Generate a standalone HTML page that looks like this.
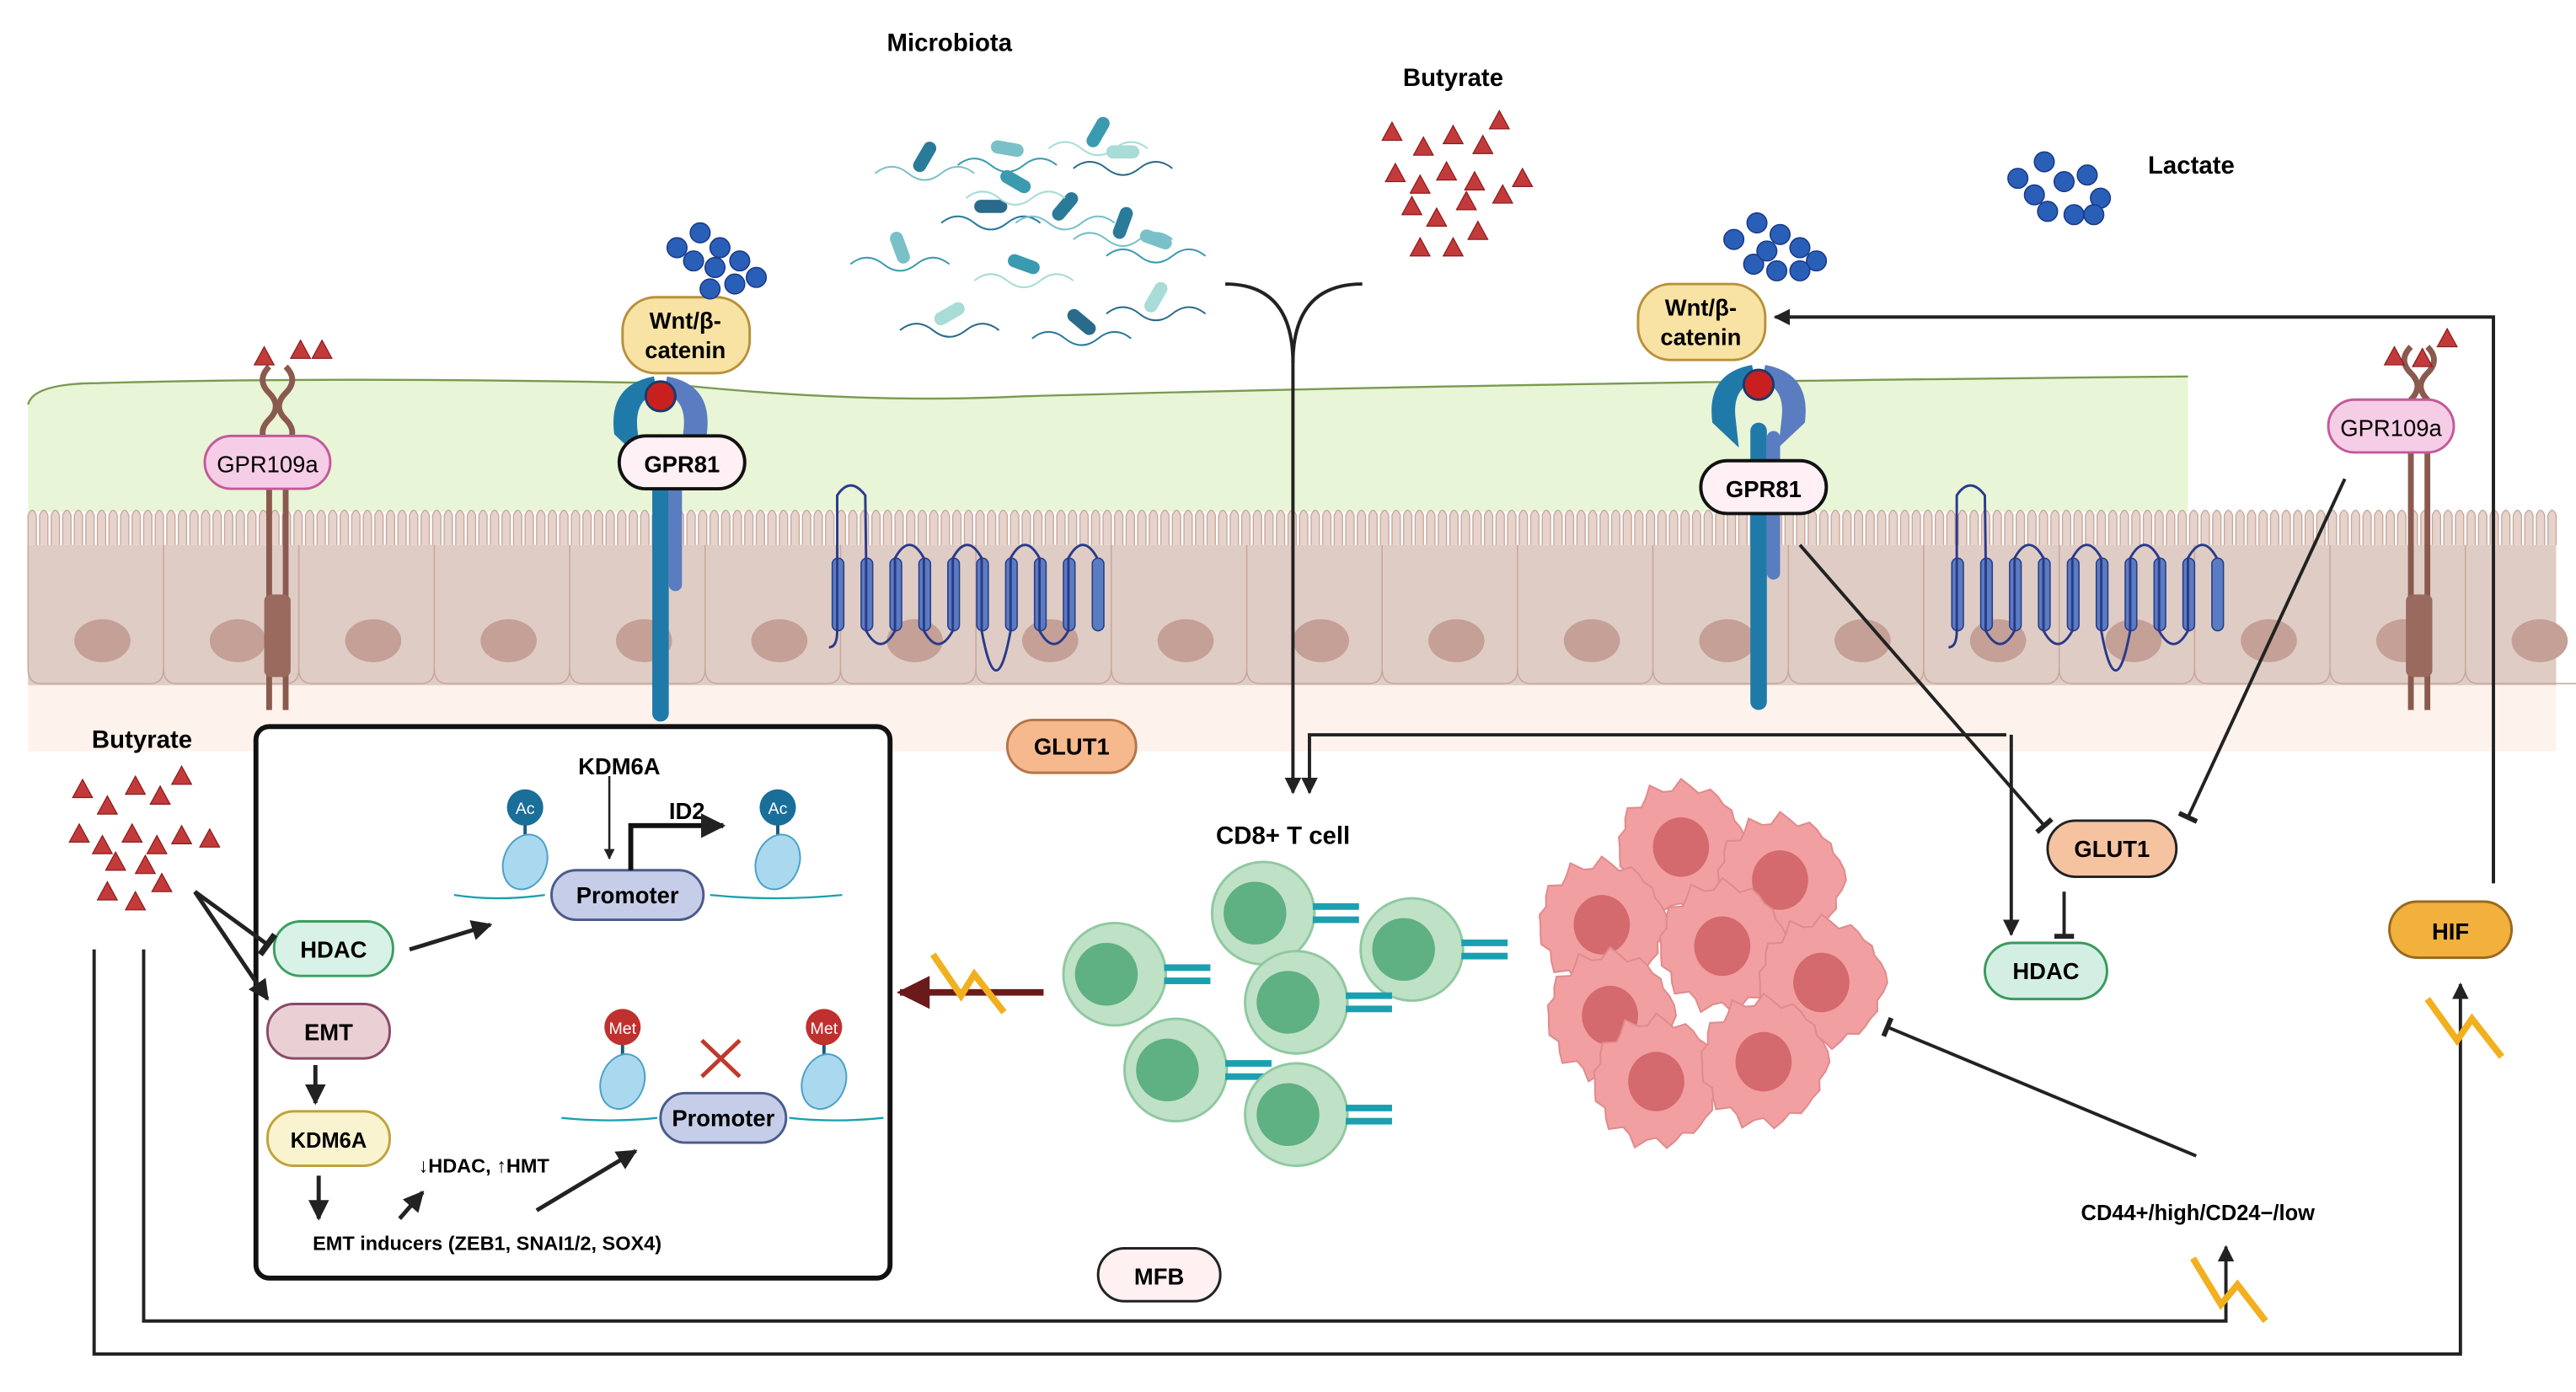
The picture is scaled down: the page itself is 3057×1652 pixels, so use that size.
<!DOCTYPE html>
<html><head><meta charset="utf-8"><style>
html,body{margin:0;padding:0;background:#fff;}
svg{display:block;}
text{font-family:"Liberation Sans",sans-serif;}
</style></head><body>
<svg id="s" width="3057" height="1652" viewBox="0 0 1560 843" preserveAspectRatio="none" xmlns="http://www.w3.org/2000/svg">
<defs>
<marker id="ar" viewBox="0 0 10 10" refX="9" refY="5" markerWidth="5" markerHeight="5" orient="auto"><path d="M0,0 L10,5 L0,10 z" fill="#222"/></marker>
<marker id="arR" viewBox="0 0 10 10" refX="9" refY="5" markerWidth="5" markerHeight="5" orient="auto"><path d="M0,0 L10,5 L0,10 z" fill="#6b1a1a"/></marker>
<marker id="tb" viewBox="0 0 10 10" refX="5" refY="5" markerWidth="6" markerHeight="6" orient="auto"><path d="M5,0 L5,10" stroke="#222" stroke-width="2.5"/></marker>
</defs>
<rect width="1560" height="843" fill="#fff"/>
<!-- lower pink band -->
<rect x="17" y="405" width="1531" height="50" fill="#fdf2ec"/>
<!-- lumen -->
<path d="M17,245 Q20,232 60,232 Q200,228 400,232 Q520,245 620,240 Q900,232 1325,228 L1325,310 L17,310 Z" fill="#e8f5d6"/>
<path d="M17,245 Q20,232 60,232 Q200,228 400,232 Q520,245 620,240 Q900,232 1325,228" fill="none" stroke="#7a9a50" stroke-width="1.2"/>
<g id="cells"></g>
<!-- membrane receptors -->
<g id="rec"></g>
<!-- box -->
<rect x="155" y="440" width="384" height="334" rx="8" fill="#fff" stroke="#111" stroke-width="3"/>
<!-- labels nodes -->
<g font-weight="bold" text-anchor="middle">
<rect x="124" y="264" width="76" height="32" rx="16" fill="#f6cde6" stroke="#c25a9a" stroke-width="1.5"/>
<text x="162" y="286" font-weight="normal" font-size="14">GPR109a</text>
<rect x="1410" y="242" width="76" height="32" rx="16" fill="#f6cde6" stroke="#c25a9a" stroke-width="1.5"/>
<text x="1448" y="264" font-weight="normal" font-size="14">GPR109a</text>
<rect x="375" y="264" width="76" height="32" rx="16" fill="#fff0f6" stroke="#111" stroke-width="2"/>
<text x="413" y="286" font-size="14">GPR81</text>
<rect x="1030" y="279" width="76" height="32" rx="16" fill="#fff0f6" stroke="#111" stroke-width="2"/>
<text x="1068" y="301" font-size="14">GPR81</text>
<rect x="377" y="180" width="77" height="46" rx="20" fill="#f8e3a4" stroke="#b9903a" stroke-width="1.5"/>
<text x="415" y="199" font-size="14">Wnt/β-</text><text x="415" y="217" font-size="14">catenin</text>
<rect x="992" y="172" width="77" height="46" rx="20" fill="#f8e3a4" stroke="#b9903a" stroke-width="1.5"/>
<text x="1030" y="191" font-size="14">Wnt/β-</text><text x="1030" y="209" font-size="14">catenin</text>
<rect x="610" y="436" width="78" height="32" rx="16" fill="#f6b98d" stroke="#b3764a" stroke-width="1.5"/>
<text x="649" y="457" font-size="14">GLUT1</text>
<rect x="1240" y="497" width="78" height="34" rx="17" fill="#f6c3a0" stroke="#222" stroke-width="1.5"/>
<text x="1279" y="519" font-size="14">GLUT1</text>
<rect x="1202" y="571" width="74" height="34" rx="17" fill="#d3efe4" stroke="#3a9a5a" stroke-width="1.5"/>
<text x="1239" y="593" font-size="14">HDAC</text>
<rect x="1447" y="546" width="74" height="34" rx="17" fill="#f1b13c" stroke="#9a6a20" stroke-width="1.5"/>
<text x="1484" y="569" font-size="14">HIF</text>
<rect x="665" y="756" width="74" height="32" rx="16" fill="#fff0f2" stroke="#222" stroke-width="1.5"/>
<text x="702" y="778" font-size="14">MFB</text>
<rect x="166" y="558" width="72" height="33" rx="16" fill="#d9f2e7" stroke="#3aa060" stroke-width="1.5"/>
<text x="202" y="580" font-size="14">HDAC</text>
<rect x="162" y="608" width="74" height="33" rx="16" fill="#ead0d4" stroke="#8a4a6a" stroke-width="1.5"/>
<text x="199" y="630" font-size="14">EMT</text>
<rect x="162" y="673" width="74" height="33" rx="16" fill="#faf3cf" stroke="#c0a33a" stroke-width="1.5"/>
<text x="199" y="695" font-size="13">KDM6A</text>
<rect x="334" y="527" width="92" height="30" rx="15" fill="#c6cde8" stroke="#4a5a8a" stroke-width="1.5"/>
<text x="380" y="547" font-size="14">Promoter</text>
<rect x="400" y="662" width="76" height="30" rx="15" fill="#c6cde8" stroke="#4a5a8a" stroke-width="1.5"/>
<text x="438" y="682" font-size="14">Promoter</text>
<text x="375" y="469" font-size="14">KDM6A</text>
<text x="416" y="496" font-size="14">ID2</text>
<text x="293" y="710" font-size="12">↓HDAC, ↑HMT</text>
<text x="295" y="757" font-size="12">EMT inducers (ZEB1, SNAI1/2, SOX4)</text>
<text x="86" y="453" font-size="15">Butyrate</text>
<text x="575" y="31" font-size="15">Microbiota</text>
<text x="880" y="52" font-size="15">Butyrate</text>
<text x="1327" y="105" font-size="15">Lactate</text>
<text x="777" y="511" font-size="15">CD8+ T cell</text>
<text x="1331" y="739" font-size="13">CD44+/high/CD24−/low</text>
<text x="728" y="640" font-size="10" fill="#1aa0b0" font-weight="normal">TCR</text>
</g>
<!-- box internals -->
<g stroke="#1aa0b0" stroke-width="1.2" fill="none">
<path d="M275,542 Q300,546 330,542"/><path d="M430,542 Q470,546 510,542"/>
<path d="M340,677 Q370,680 398,677"/><path d="M478,677 Q505,680 535,677"/>
</g>
<g id="nuc"></g>
<path d="M369,470 L369,520" stroke="#222" stroke-width="1.3" marker-end="url(#ar)"/>
<path d="M382,527 L382,500 L438,500" stroke="#111" stroke-width="3" fill="none" marker-end="url(#ar)"/>
<path d="M425,630 L448,652 M448,630 L425,652" stroke="#c0392b" stroke-width="2.5"/>
<g stroke="#222" stroke-width="2.5" fill="none">
<path d="M248,575 L297,560" marker-end="url(#ar)"/>
<path d="M191,645 L191,668" marker-end="url(#ar)"/>
<path d="M193,712 L193,738" marker-end="url(#ar)"/>
<path d="M242,738 L256,722" marker-end="url(#ar)"/>
<path d="M325,733 L385,697" marker-end="url(#ar)"/>
<path d="M118,540 L162,572" marker-end="url(#tb)"/>
<path d="M118,540 L162,605" marker-end="url(#ar)"/>
</g>
<!-- long connectors -->
<g stroke="#222" stroke-width="2" fill="none">
<path d="M57,575 L57,820 L1490,820 L1490,596" marker-end="url(#ar)"/>
<path d="M87,575 L87,800 L1348,800 L1348,755" marker-end="url(#ar)"/>
<path d="M1510,535 L1510,192 L1075,192" marker-end="url(#ar)"/>
<path d="M742,172 Q783,172 783,220 L783,480" marker-end="url(#ar)"/>
<path d="M825,172 Q783,172 783,220"/>
<path d="M1215,445 L793,445 L793,480" marker-end="url(#ar)"/>
<path d="M1218,445 L1218,566" marker-end="url(#ar)"/>
<path d="M1090,330 L1238,500" marker-end="url(#tb)"/>
<path d="M1420,290 L1325,495" marker-end="url(#tb)"/>
<path d="M1250,540 L1250,567" marker-end="url(#tb)"/>
<path d="M1330,700 L1143,622" marker-end="url(#tb)"/>
</g>
<path d="M632,601 L545,601" stroke="#6b1a1a" stroke-width="4" marker-end="url(#arR)"/>
<g fill="none" stroke="#f2b01e" stroke-width="4">
<path d="M608,613 L590,590 L582,603 L565,578"/><path d="M1372,800 L1355,778 L1345,790 L1328,762"/><path d="M1515,640 L1497,617 L1488,630 L1470,605"/>
</g>
<g id="bio"></g>
</svg>
<script>
const NS="http://www.w3.org/2000/svg";
function add(p,tag,a){const e=document.createElementNS(NS,tag);for(const k in a)e.setAttribute(k,a[k]);document.getElementById(p).appendChild(e);return e;}
// cells
add("cells","rect",{x:17,y:330,width:1531,height:85,fill:"#dfcdc5"});
for(let x=17;x<1548;x+=7)add("cells","path",{d:`M${x},330 L${x},312 Q${x+2.5},306 ${x+5},312 L${x+5},330`,fill:"#e6d3cb",stroke:"#c8a89c","stroke-width":0.7});
for(let x=17;x<1548;x+=82){add("cells","path",{d:`M${x},330 L${x},405 Q${x},414 ${x+8},414 L${x+74},414 Q${x+82},414 ${x+82},405`,fill:"none",stroke:"#c8a89c","stroke-width":0.8});add("cells","ellipse",{cx:x+45,cy:388,rx:17,ry:13,fill:"#c4a097"});}
// receptors
function gpr109(x,y0){add("rec","path",{d:`M${x-5},${y0} q-8,8 0,16 q8,8 0,16 q-8,8 0,16 q8,8 0,16 L${x-5},430 M${x+5},${y0} q8,8 0,16 q-8,8 0,16 q8,8 0,16 q-8,8 0,16 L${x+5},430`,fill:"none",stroke:"#8a5a4e","stroke-width":3.5});
 add("rec","rect",{x:x-8,y:360,width:16,height:50,fill:"#9a6a5e",rx:4});}
gpr109(168,222);gpr109(1465,210);
function gpr81(x,y,bot){add("rec","path",{d:`M${x-28},${y+20} q-4,-30 24,-35 l2,10 q-14,4 -12,22 l2,18 z`,fill:"#1f7aaa"});add("rec","path",{d:`M${x+28},${y+20} q4,-30 -24,-35 l-2,10 q14,4 12,22 l-2,18 z`,fill:"#5a7cc0"});
 add("rec","circle",{cx:x,cy:y-3,r:9,fill:"#c8201e",stroke:"#1a3a6a","stroke-width":1.5});add("rec","rect",{x:x-5,y:y+20,width:10,height:bot-y-20,rx:5,fill:"#1f7aaa"});add("rec","rect",{x:x+5,y:y+25,width:8,height:90,rx:4,fill:"#5a7cc0"});}
gpr81(400,243,437);gpr81(1065,236,430);
function glut(x0){let d=`M${x0},${392}`;for(let i=0;i<10;i++){const x=x0+i*17.5;add("rec","rect",{x:x-3,y:338,width:7,height:44,rx:3.5,fill:"#5a7cc0",stroke:"#2a3a8a","stroke-width":0.8});}
 let p=`M${x0-5},392 Q${x0},392 ${x0},382 L${x0},338 L${x0},300 Q${x0+8},288 ${x0+17},300 L${x0+17.5},338`;
 for(let i=1;i<9;i++){const x=x0+i*17.5;const up=(i%2==1);p+= up?` L${x},382 Q${x+8.75},${i==5?430:398} ${x+17.5},382`:` L${x},338 Q${x+8.75},322 ${x+17.5},338`;}
 add("rec","path",{d:p,fill:"none",stroke:"#2a3a8a","stroke-width":1.5});}
glut(507);glut(1185);
// nucleosomes
function nucl(x,y,lab,col){add("nuc","line",{x1:x,y1:y-25,x2:x,y2:y-12,stroke:"#1a5a7a","stroke-width":2});add("nuc","circle",{cx:x,cy:y-33,r:11,fill:col});
 const t=add("nuc","text",{x:x,y:y-29,"font-size":10,fill:"#fff","text-anchor":"middle"});t.textContent=lab;
 add("nuc","ellipse",{cx:x,cy:y,rx:13,ry:17,fill:"#a9d8ef",stroke:"#4aa0c8","stroke-width":1,transform:`rotate(20 ${x} ${y})`});}
nucl(318,522,"Ac","#1a6e9a");nucl(471,522,"Ac","#1a6e9a");nucl(377,655,"Met","#c0302e");nucl(499,655,"Met","#c0302e");
// triangles
function tri(x,y){add("bio","path",{d:`M${x},${y-6} L${x+6},${y+5} L${x-6},${y+5} Z`,fill:"#c23a3a",stroke:"#8a1a1a","stroke-width":0.6});}
[[50,478],[65,488],[82,476],[97,482],[110,470],[48,505],[62,512],[80,505],[95,512],[110,506],[127,508],[70,522],[88,524],[65,540],[82,546],[98,535],
 [843,80],[862,89],[880,82],[898,88],[908,73],[845,105],[860,112],[876,104],[893,110],[910,118],[922,108],[855,125],[870,132],[888,122],[860,150],[880,150],[895,140],
 [160,216],[182,212],[195,212],[1450,216],[1467,217],[1482,205]].forEach(p=>tri(p[0],p[1]));
// lactate
function lac(pts){pts.forEach(p=>add("bio","circle",{cx:p[0],cy:p[1],r:6,fill:"#2a5fb8",stroke:"#1a3a8a","stroke-width":0.8}));}
lac([[410,150],[424,141],[436,150],[448,158],[458,168],[433,162],[420,158],[445,172],[430,175],[1050,145],[1064,135],[1078,142],[1090,150],[1100,158],[1062,160],[1076,164],[1090,164],[1070,152],
 [1222,108],[1238,98],[1250,110],[1264,106],[1272,120],[1240,128],[1256,130],[1268,130],[1232,118]]);
// microbiota
const mc=["#2a7a9a","#7ac0c8","#3a9ab0","#a8dcd6","#2a6a8a"];
[[560,95,-60],[610,90,10],[665,80,-60],[680,92,0],[600,125,0],[645,125,-50],[545,150,70],[620,160,20],[575,190,-30],[655,195,40],[680,135,-70],[700,145,20],[615,110,30],[700,180,-60]].forEach((p,i)=>{
 add("bio","rect",{x:p[0]-10,y:p[1]-4,width:20,height:8,rx:4,fill:mc[i%5],transform:`rotate(${p[2]} ${p[0]} ${p[1]})`});
 add("bio","path",{d:`M${p[0]-30},${p[1]+10} q10,-8 20,0 q10,8 20,0 q10,-8 20,0`,fill:"none",stroke:mc[(i+1)%5],"stroke-width":1});});
// T cells
[[675,590],[765,553],[855,575],[785,607],[712,648],[785,675]].forEach(p=>{
 add("bio","circle",{cx:p[0],cy:p[1],r:31,fill:"#bfe1c6",stroke:"#8fc9a0","stroke-width":1.5});
 add("bio","circle",{cx:p[0]-5,cy:p[1],r:19,fill:"#5fb082"});
 [-4,4].forEach(d=>add("bio","rect",{x:p[0]+30,y:p[1]+d-2,width:28,height:4,fill:"#1aa0b0"}));});
// tumor cells
[[1018,513],[1078,533],[970,560],[1043,573],[1103,595],[975,615],[1003,655],[1068,643]].forEach(p=>{
 let d="";for(let i=0;i<40;i++){const a=i/40*Math.PI*2;const r=36+(i%3==0?4:0)+Math.sin(i*1.7)*2;d+=(i?"L":"M")+(p[0]+r*Math.cos(a)).toFixed(1)+","+(p[1]+r*Math.sin(a)).toFixed(1);}
 add("bio","path",{d:d+"Z",fill:"#f19fa0",stroke:"#e08a8c","stroke-width":1});
 add("bio","ellipse",{cx:p[0],cy:p[1],rx:17,ry:18,fill:"#d4696e"});});
</script>
</body></html>
